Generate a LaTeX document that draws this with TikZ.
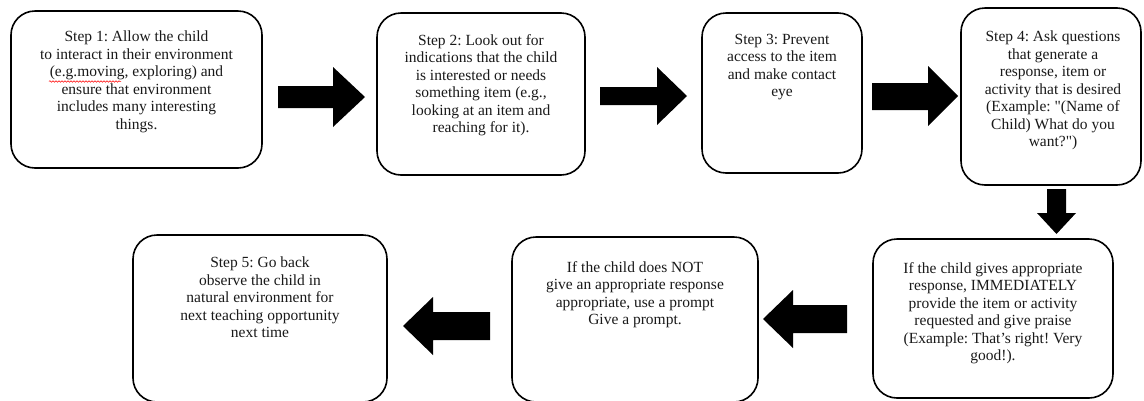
\documentclass[tikz,border=0pt]{standalone}
\usepackage{fontspec}
\setmainfont{Liberation Serif}
\usetikzlibrary{decorations.pathmorphing}
\begin{document}
\frenchspacing
\begin{tikzpicture}[x=1pt,y=-1pt,
  box/.style={draw, line width=1.6pt, rounded corners=24pt, inner sep=0pt, outer sep=0pt},
  txt/.style={anchor=north, align=center, inner sep=0pt, text=black!90,
              font=\fontsize{15.5}{17.5}\selectfont\frenchspacing},
  blk/.style={fill=black}]
\useasboundingbox (0,0) rectangle (1144,400);

% boxes
\node[box, minimum width=251pt, minimum height=157pt] (b1) at (136.5,89.5) {};
\node[box, minimum width=208pt, minimum height=162pt] (b2) at (481,94) {};
\node[box, minimum width=160pt, minimum height=160pt] (b3) at (782,93) {};
\node[box, minimum width=180pt, minimum height=177pt] (b4) at (1051,96.5) {};
\node[box, minimum width=240pt, minimum height=159pt] (b6) at (993,318.5) {};
\node[box, minimum width=246pt, minimum height=165pt] (b5) at (635,319.5) {};
\node[box, minimum width=254pt, minimum height=167pt] (b7) at (260,318.5) {};

% texts
\node[txt] (t1) at (136.5,31) {Step 1: Allow the child\\to interact in their environment\\(e.g.moving, exploring) and\\ensure that environment\\includes many interesting\\things.};
\node[txt] (t2) at (481,34) {Step 2: Look out for\\indications that the child\\is interested or needs\\something item (e.g.,\\looking at an item and\\reaching for it).};
\node[txt] (t3) at (782,34) {Step 3: Prevent\\access to the item\\and make contact\\eye};
\node[txt] (t4) at (1053,31) {Step 4: Ask questions\\that generate a\\response, item or\\activity that is desired\\(Example: \textquotedbl(Name of\\Child) What do you\\want?\textquotedbl)};
\node[txt] (t6) at (993,262) {If the child gives appropriate\\response, IMMEDIATELY\\provide the item or activity\\requested and give praise\\(Example: That’s right! Very\\good!).};
\node[txt] (t5) at (635,261) {If the child does NOT\\give an appropriate response\\appropriate, use a prompt\\Give a prompt.};
\node[txt] (t7) at (260,257) {Step 5: Go back\\observe the child in\\natural environment for\\next teaching opportunity\\next time};

% spell-check underline
\draw[red, line width=0.5pt, decorate, decoration={snake, segment length=3pt, amplitude=0.8pt}] (49,81.5) -- (121,81.5);

% block arrows
\fill[blk] (278,86) -- (333,86) -- (333,67) -- (365,97) -- (333,127) -- (333,108) -- (278,108) -- cycle;
\fill[blk] (600,87) -- (657,87) -- (657,67) -- (687,96) -- (657,125) -- (657,105) -- (600,105) -- cycle;
\fill[blk] (872,83) -- (928,83) -- (928,66) -- (958,96) -- (928,126) -- (928,110) -- (872,110) -- cycle;
\fill[blk] (1047,189) -- (1066,189) -- (1066,213) -- (1076,213) -- (1056.5,234) -- (1037,213) -- (1047,213) -- cycle;
\fill[blk] (847,305) -- (793,305) -- (793,290) -- (763,319) -- (793,348) -- (793,333) -- (847,333) -- cycle;
\fill[blk] (490,312) -- (433,312) -- (433,297) -- (403,326) -- (433,355) -- (433,340) -- (490,340) -- cycle;
\end{tikzpicture}
\end{document}
